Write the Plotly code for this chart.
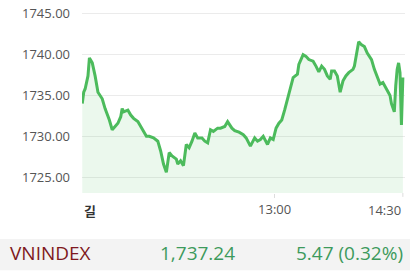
import plotly.graph_objects as go

# ---- data ----
times = ["09:15","09:16","09:17","09:19","09:20","09:22","09:24","09:26","09:29","09:31",
         "09:34","09:36","09:38","09:40","09:42","09:43","09:44","09:47","09:49","09:51",
         "09:54","09:57","10:00","10:02","10:05","10:08","10:10","10:12","10:14","10:16",
         "10:18","10:21","10:22","10:24","10:26","10:28","10:30","10:32","10:34","10:36",
         "10:39","10:41","10:43","10:45","10:47","10:50","10:52","10:55","10:57","11:00",
         "11:02","11:05","11:08","11:10","11:13","11:16","11:18","11:20","11:22","11:25",
         "11:27","11:29",
         "13:01","13:03","13:05","13:07","13:09","13:11","13:13","13:16","13:17","13:20",
         "13:22","13:24","13:27","13:29","13:31","13:33","13:35","13:37","13:39","13:40",
         "13:42","13:44","13:46","13:48","13:50","13:52","13:55","13:56","13:58","13:59",
         "14:01","14:03","14:05","14:08","14:10","14:12","14:14","14:16","14:18","14:21",
         "14:22","14:24","14:25","14:26","14:27","14:28","14:29","14:30"]
values = [1734.0,1735.4,1735.8,1737.4,1739.6,1739.0,1737.4,1735.4,1734.6,1733.4,
          1732.0,1730.8,1731.2,1731.6,1732.4,1733.4,1733.0,1733.2,1732.6,1732.2,
          1731.8,1730.8,1730.0,1730.0,1729.8,1729.4,1728.2,1726.6,1725.6,1728.0,
          1727.6,1727.2,1726.6,1727.0,1726.4,1729.0,1728.6,1729.4,1730.4,1729.8,
          1729.8,1729.4,1729.2,1730.8,1730.6,1731.0,1731.0,1731.2,1731.8,1731.0,
          1730.7,1730.5,1730.2,1729.8,1728.8,1729.8,1729.4,1729.6,1730.0,1729.0,
          1729.8,1729.6,
          1731.0,1731.6,1732.0,1733.2,1734.6,1736.0,1737.2,1737.6,1738.8,1740.0,
          1739.8,1739.4,1739.2,1738.6,1737.9,1738.6,1738.2,1737.4,1737.0,1738.0,
          1738.0,1737.4,1735.4,1736.8,1737.4,1737.8,1738.2,1738.6,1740.4,1741.6,
          1741.2,1741.0,1740.2,1739.4,1738.2,1737.4,1736.4,1736.6,1736.0,1735.0,
          1734.0,1733.0,1736.2,1738.2,1739.0,1737.8,1731.4,1737.2]
y_ticks = [1725, 1730, 1735, 1740, 1745]
x_tick_labels = ["길", "13:00", "14:30"]
x_tick_times = ["09:15", "13:00", "14:30"]
index_name = "VNINDEX"
last_value = 1737.24
change = 5.47
change_pct = 0.32

# session minutes with the lunch break removed
def session_minute(t):
    h, m = map(int, t.split(":"))
    mins = h * 60 + m
    if mins >= 13 * 60:
        return (11 * 60 + 30 - (9 * 60 + 15)) + (mins - 13 * 60)
    return mins - (9 * 60 + 15)

xs = [session_minute(t) for t in times]
tick_x = [session_minute(t) for t in x_tick_times]

fig = go.Figure()
fig.add_trace(go.Scatter(
    x=xs, y=values, mode="lines",
    line=dict(color="#4cbb5c", width=3),
    fill="tozeroy", fillcolor="rgba(76,187,92,0.11)",
    hoverinfo="skip"))

label_font = dict(family="Open Sans", size=13, color="#555555")
fig.update_layout(
    width=410, height=272,
    margin=dict(l=82, r=5, t=5, b=79),
    paper_bgcolor="white", plot_bgcolor="white",
    showlegend=False,
    xaxis=dict(range=[-0.2, 226.5], showgrid=False, zeroline=False,
               tickvals=tick_x[1:2], ticktext=x_tick_labels[1:2],
               ticks="outside", ticklen=4, tickcolor="#dddddd",
               tickfont=label_font, showline=False, fixedrange=True),
    yaxis=dict(range=[1723.05, 1745.6], tickvals=y_ticks,
               ticktext=[f"{v:.2f}" for v in y_ticks],
               gridcolor="#ebebeb", gridwidth=1, zeroline=False,
               tickfont=label_font, ticklabelstandoff=11, fixedrange=True),
)

# extra tick mark at 14:30 and edge-aligned labels
fig.add_shape(type="line", xref="x", yref="paper", x0=tick_x[2], x1=tick_x[2],
              y0=0, y1=-0.021, line=dict(color="#dddddd", width=1))
fig.add_annotation(x=tick_x[0], y=-0.035, xref="x", yref="paper", yanchor="top",
                   xanchor="left", text="<b>" + x_tick_labels[0] + "</b>", showarrow=False,
                   font=dict(family="Noto Sans CJK KR", size=13, color="#333333"))
fig.add_annotation(x=tick_x[2], y=-0.035, xref="x", yref="paper", yanchor="top",
                   xanchor="right", text=x_tick_labels[2], showarrow=False,
                   font=label_font)

# bottom summary band
fig.add_shape(type="rect", xref="paper", yref="paper", x0=-0.26, x1=1.02,
              y0=-0.42, y1=-0.25, fillcolor="#f3f3f3", line=dict(width=0), layer="below")
row_y = -0.325
fig.add_annotation(x=-0.228, y=row_y, xref="paper", yref="paper", xanchor="left",
                   yanchor="middle", text=index_name, showarrow=False,
                   font=dict(family="Open Sans", size=19, color="#7f1820"))
fig.add_annotation(x=0.235, y=row_y, xref="paper", yref="paper", xanchor="left",
                   yanchor="middle", text=f"{last_value:,.2f}", showarrow=False,
                   font=dict(family="Open Sans", size=19, color="#3d9a5c"))
fig.add_annotation(x=1.0, y=row_y, xref="paper", yref="paper", xanchor="right",
                   yanchor="middle", text=f"{change:.2f} ({change_pct:.2f}%)", showarrow=False,
                   font=dict(family="Open Sans", size=19, color="#3d9a5c"))

fig.write_html("out.html", config={"displayModeBar": False})
